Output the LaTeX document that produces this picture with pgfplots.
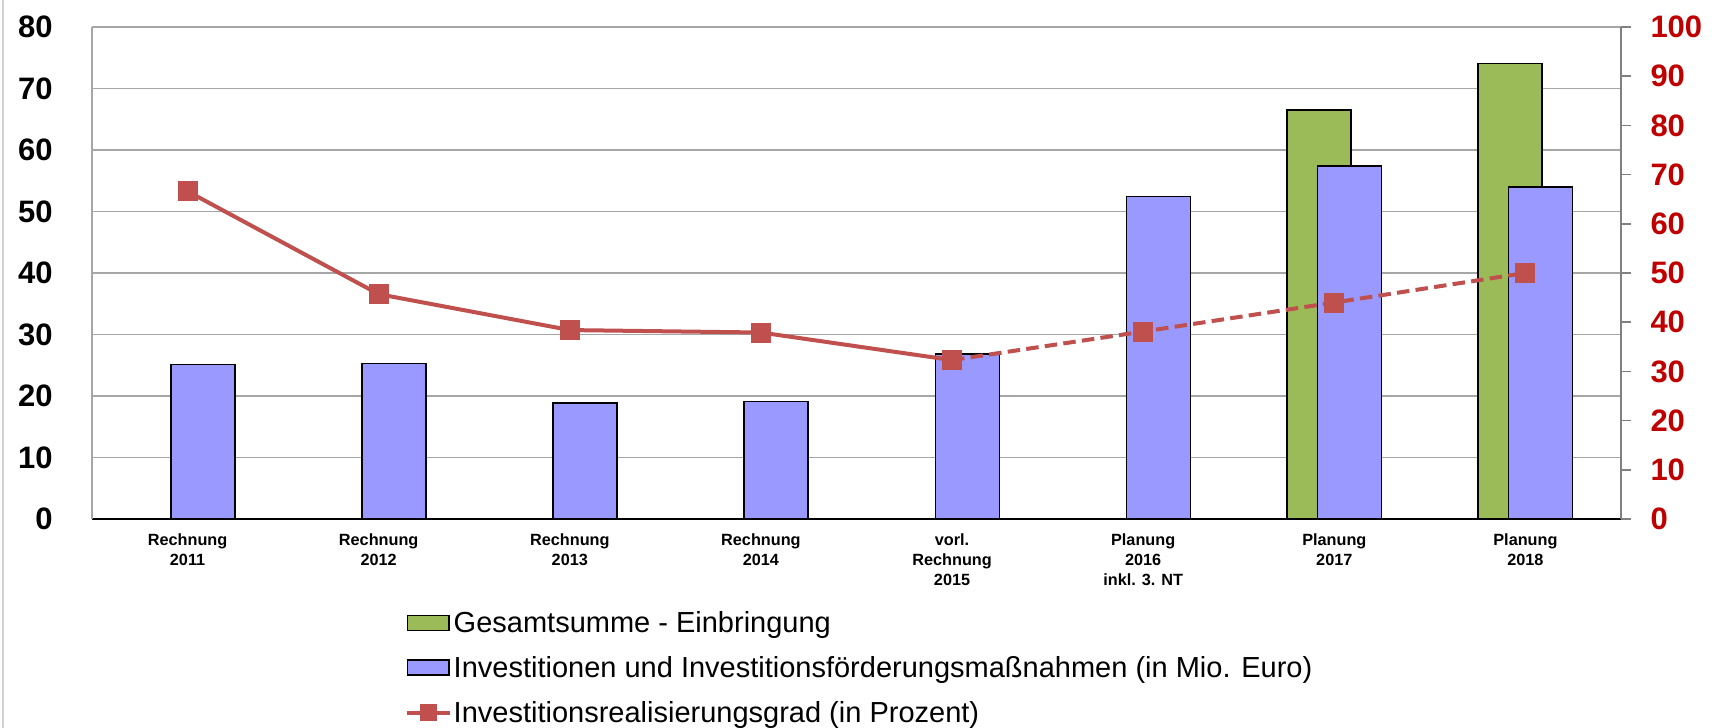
\documentclass[border=0pt]{standalone}
\usepackage{fontspec}
\setmainfont{Liberation Sans}
\usepackage{pgfplots}
\pgfplotsset{compat=1.18}
\definecolor{barblue}{HTML}{9999FF}
\definecolor{bargreen}{HTML}{9BBB59}
\definecolor{linered}{HTML}{C0504D}
\definecolor{tickred}{HTML}{C00000}
\definecolor{gridgray}{HTML}{A6A6A6}
\begin{document}
\begin{tikzpicture}
\path (0pt,0pt) rectangle (686pt,291.2pt);
\draw[gray!35, line width=0.6pt] (1.2pt,0pt) -- (1.2pt,291.2pt);
\begin{axis}[
  at={(36.8pt,83.6pt)}, anchor=south west, scale only axis,
  width=611.6pt, height=196.8pt,
  xmin=-0.5, xmax=7.5, ymin=0, ymax=80,
  ytick={0,10,...,80}, xtick={0,...,7},
  xticklabels={{Rechnung\\2011},{Rechnung\\2012},{Rechnung\\2013},{Rechnung\\2014},{vorl.\\Rechnung\\2015},{Planung\\2016\\inkl. 3. NT},{Planung\\2017},{Planung\\2018}},
  axis lines*=left,
  x axis line style={black, line width=0.5pt},
  y axis line style={gridgray, line width=0.5pt},
  major tick length=0pt, tick style={draw=none},
  ymajorgrids, grid style={gridgray, line width=0.5pt},
  /pgf/number format/assume math mode=true,
  xticklabel style={font=\bfseries\fontsize{6.5}{8}\selectfont, align=center, anchor=north, inner sep=0pt, yshift=-5.6pt},
  yticklabel style={font=\bfseries\fontsize{12.4}{14}\selectfont, anchor=east, inner sep=0pt, xshift=-15.6pt},
]
\addplot[ybar, bar width=0.335, bar shift=-0.08, fill=bargreen, draw=black, line width=0.6pt] coordinates {(6,66.5) (7,74.1)};
\addplot[ybar, bar width=0.335, bar shift=0.08, fill=barblue, draw=black, line width=0.6pt] coordinates {(0,25.1) (1,25.3) (2,18.9) (3,19.1) (4,26.8) (5,52.4) (6,57.4) (7,54.0)};
\end{axis}
\begin{axis}[
  at={(36.8pt,83.6pt)}, anchor=south west, scale only axis,
  width=611.6pt, height=196.8pt,
  xmin=-0.5, xmax=7.5, ymin=0, ymax=100,
  axis x line=none, axis y line*=right,
  y axis line style={gray, line width=0.8pt},
  ytick={0,10,...,100},
  tick align=outside, major tick length=4pt, tick style={gray, line width=0.6pt},
  /pgf/number format/assume math mode=true,
  yticklabel style={font=\bfseries\fontsize{12.4}{14}\selectfont, color=tickred, anchor=west, inner sep=0pt, xshift=7.6pt},
  clip=false,
  legend cell align=left,
  legend style={at={(axis description cs:0.2047,-0.1845)}, anchor=north west, draw=none, fill=none,
    font=\fontsize{11.6}{13}\selectfont, inner sep=0pt, row sep=5.9pt,
    nodes={inner sep=0.5pt, text height=8.5pt, text depth=2.5pt}},
]
\addlegendimage{legend image code/.code={\draw[fill=bargreen, draw=black, line width=0.6pt] (0pt,-2pt) rectangle (16.6pt,4pt);}}
\addlegendentry{Gesamtsumme - Einbringung}
\addlegendimage{legend image code/.code={\draw[fill=barblue, draw=black, line width=0.6pt] (0pt,-2pt) rectangle (16.6pt,4pt);}}
\addlegendentry{Investitionen und Investitionsförderungsmaßnahmen (in Mio. Euro)}
\addlegendimage{legend image code/.code={\draw[linered, line width=1.6pt] (0pt,0.8pt) -- (17.2pt,0.8pt); \fill[linered] (5.2pt,-2.4pt) rectangle (11.6pt,4pt);}}
\addlegendentry{Investitionsrealisierungsgrad (in Prozent)}
\addplot[linered, line width=1.6pt, mark=square*, mark size=3.2pt, mark options={solid, fill=linered}, forget plot] coordinates {(0,66.6) (1,45.7) (2,38.4) (3,37.9) (4,32.3)};
\addplot[linered, line width=1.6pt, dash pattern=on 5pt off 2.5pt, mark=square*, mark size=3.2pt, mark options={solid, fill=linered}, forget plot] coordinates {(4,32.3) (5,38.1) (6,44.0) (7,50.0)};
\end{axis}
\pgfresetboundingbox
\useasboundingbox (0pt,0pt) rectangle (686pt,291.2pt);
\end{tikzpicture}
\end{document}
